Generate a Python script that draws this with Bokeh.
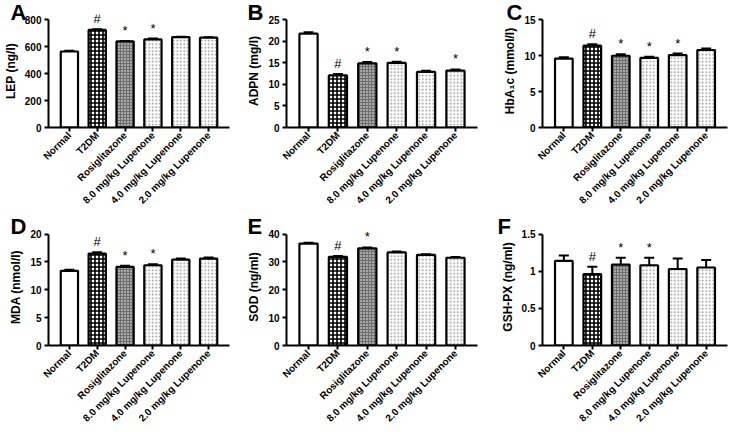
from bokeh.plotting import figure
from bokeh.layouts import gridplot
from bokeh.models import Range1d, FactorRange, FixedTicker, Whisker, ColumnDataSource, Title, TeeHead
from bokeh.embed import file_html
from bokeh.resources import INLINE
from bokeh.core.properties import value
import math

groups = ["Normal", "T2DM", "Rosiglitazone", "8.0 mg/kg Lupenone",
          "4.0 mg/kg Lupenone", "2.0 mg/kg Lupenone"]

lep = [565, 725, 640, 655, 672, 668]
lep_err = [6, 5, 3, 6, 3, 3]
lep_marks = ["", "#", "*", "*", "", ""]

adpn = [21.8, 12.1, 14.9, 15.0, 12.9, 13.2]
adpn_err = [0.3, 0.3, 0.3, 0.3, 0.3, 0.3]
adpn_marks = ["", "#", "*", "*", "", "*"]

hba1c = [9.6, 11.4, 10.0, 9.7, 10.1, 10.8]
hba1c_err = [0.2, 0.2, 0.2, 0.15, 0.2, 0.2]
hba1c_marks = ["", "#", "*", "*", "*", ""]

mda = [13.4, 16.5, 14.1, 14.4, 15.4, 15.6]
mda_err = [0.2, 0.25, 0.2, 0.2, 0.2, 0.2]
mda_marks = ["", "#", "*", "*", "", ""]

sod = [36.6, 31.8, 34.9, 33.4, 32.5, 31.5]
sod_err = [0.3, 0.3, 0.3, 0.3, 0.3, 0.3]
sod_marks = ["", "#", "*", "", "", ""]

gsh = [1.14, 0.96, 1.09, 1.08, 1.03, 1.05]
gsh_err = [0.07, 0.10, 0.09, 0.10, 0.14, 0.10]
gsh_marks = ["", "#", "*", "*", "", ""]

# bar fill styles per group
fill_colors = ["white", "white", "#6e6e6e", "white", "white", "white"]
hatch_patterns = [" ", "+", ".", ".", ".", "."]
hatch_colors = ["black", "black", "white", "#8a8a8a", "#8a8a8a", "#8a8a8a"]
hatch_scales = [4, 4, 3, 3.5, 3.5, 3.5]
hatch_weights = [1, 1.6, 1, 1, 1, 1]

FONT = "Liberation Sans"


def panel(letter, ylabel, vals, errs, marks, yend, ticks, width, height,
          left, right, top, standoff, letter_x):
    p = figure(x_range=FactorRange(*groups, range_padding=0.25,
                                   range_padding_units="absolute"),
               y_range=Range1d(0, yend * 1.05), width=width, height=height,
               output_backend="svg", toolbar_location=None,
               min_border_left=left, min_border_right=right,
               min_border_top=top, min_border_bottom=0)
    p.title = Title(text=letter, align="left", vertical_align="bottom",
                    offset=-(left - letter_x), standoff=standoff,
                    text_font=FONT, text_font_style="bold",
                    text_font_size="22px", text_color="black")
    p.outline_line_color = None
    p.xgrid.visible = False
    p.ygrid.visible = False
    up = [v + e for v, e in zip(vals, errs)]
    src = ColumnDataSource(dict(x=groups, top=vals, up=up, marks=marks,
                                fc=fill_colors, hp=hatch_patterns,
                                hc=hatch_colors, hs=hatch_scales,
                                hw=hatch_weights))
    p.vbar(x="x", top="top", bottom=0, width=0.62, source=src,
           fill_color="fc", hatch_pattern="hp", hatch_color="hc",
           hatch_scale="hs", hatch_weight="hw",
           line_color="black", line_width=2.2)
    w = Whisker(base="x", lower="top", upper="up", source=src,
                line_color="black", line_width=2,
                upper_head=TeeHead(size=10, line_width=2, line_color="black"),
                lower_head=None)
    p.add_layout(w)
    p.text(x="x", y="up", text="marks", source=src, text_align="center",
           text_baseline="bottom", y_offset=-3, text_font=value(FONT),
           text_font_size="13px", text_color="black")
    for ax in (p.xaxis[0], p.yaxis[0]):
        ax.axis_line_width = 2
        ax.axis_line_color = "black"
        ax.major_tick_line_width = 2
        ax.major_tick_line_color = "black"
        ax.major_tick_in = 0
        ax.major_tick_out = 4
        ax.minor_tick_line_color = None
        ax.major_label_text_font = FONT
        ax.major_label_text_font_style = "bold"
        ax.major_label_text_color = "black"
    p.xaxis.major_label_orientation = math.pi / 4
    p.xaxis.major_label_text_font_size = "10px"
    p.xaxis.major_label_standoff = 2
    p.yaxis.bounds = (0, yend)
    p.yaxis.major_label_text_font_size = "10px"
    p.yaxis.major_label_standoff = 3
    p.yaxis.ticker = FixedTicker(ticks=ticks)
    p.yaxis.axis_label = ylabel
    p.yaxis.axis_label_text_font = FONT
    p.yaxis.axis_label_text_font_style = "bold"
    p.yaxis.axis_label_text_font_size = "12px"
    p.yaxis.axis_label_text_color = "black"
    p.yaxis.axis_label_standoff = 4
    return p


H1, H2 = 212, 218
pa = panel("A", "LEP (ng/l)", lep, lep_err, lep_marks, 800,
           [0, 200, 400, 600, 800], 242, H1, 38, 13, 14, -20, 0)
pb = panel("B", "ADPN (mg/l)", adpn, adpn_err, adpn_marks, 25,
           [0, 5, 10, 15, 20, 25], 245, H1, 44, 10, 14, -20, 5)
pc = panel("C", "HbA\u2081c (mmol/l)", hba1c, hba1c_err, hba1c_marks, 15,
           [0, 5, 10, 15], 242, H1, 46, 2, 14, -20, 10)
pd = panel("D", "MDA (nmol/l)", mda, mda_err, mda_marks, 20,
           [0, 5, 10, 15, 20], 242, H2, 38, 13, 16, -20, 0)
pe = panel("E", "SOD (ng/ml)", sod, sod_err, sod_marks, 40,
           [0, 10, 20, 30, 40], 245, H2, 44, 6, 16, -20, 5)
pf = panel("F", "GSH-PX (ng/ml)", gsh, gsh_err, gsh_marks, 1.5,
           [0, 0.5, 1.0, 1.5], 242, H2, 55, 2, 16, -20, 10)

grid = gridplot([[pa, pb, pc], [pd, pe, pf]], toolbar_location=None)

open("out.html", "w").write(file_html(grid, INLINE))
